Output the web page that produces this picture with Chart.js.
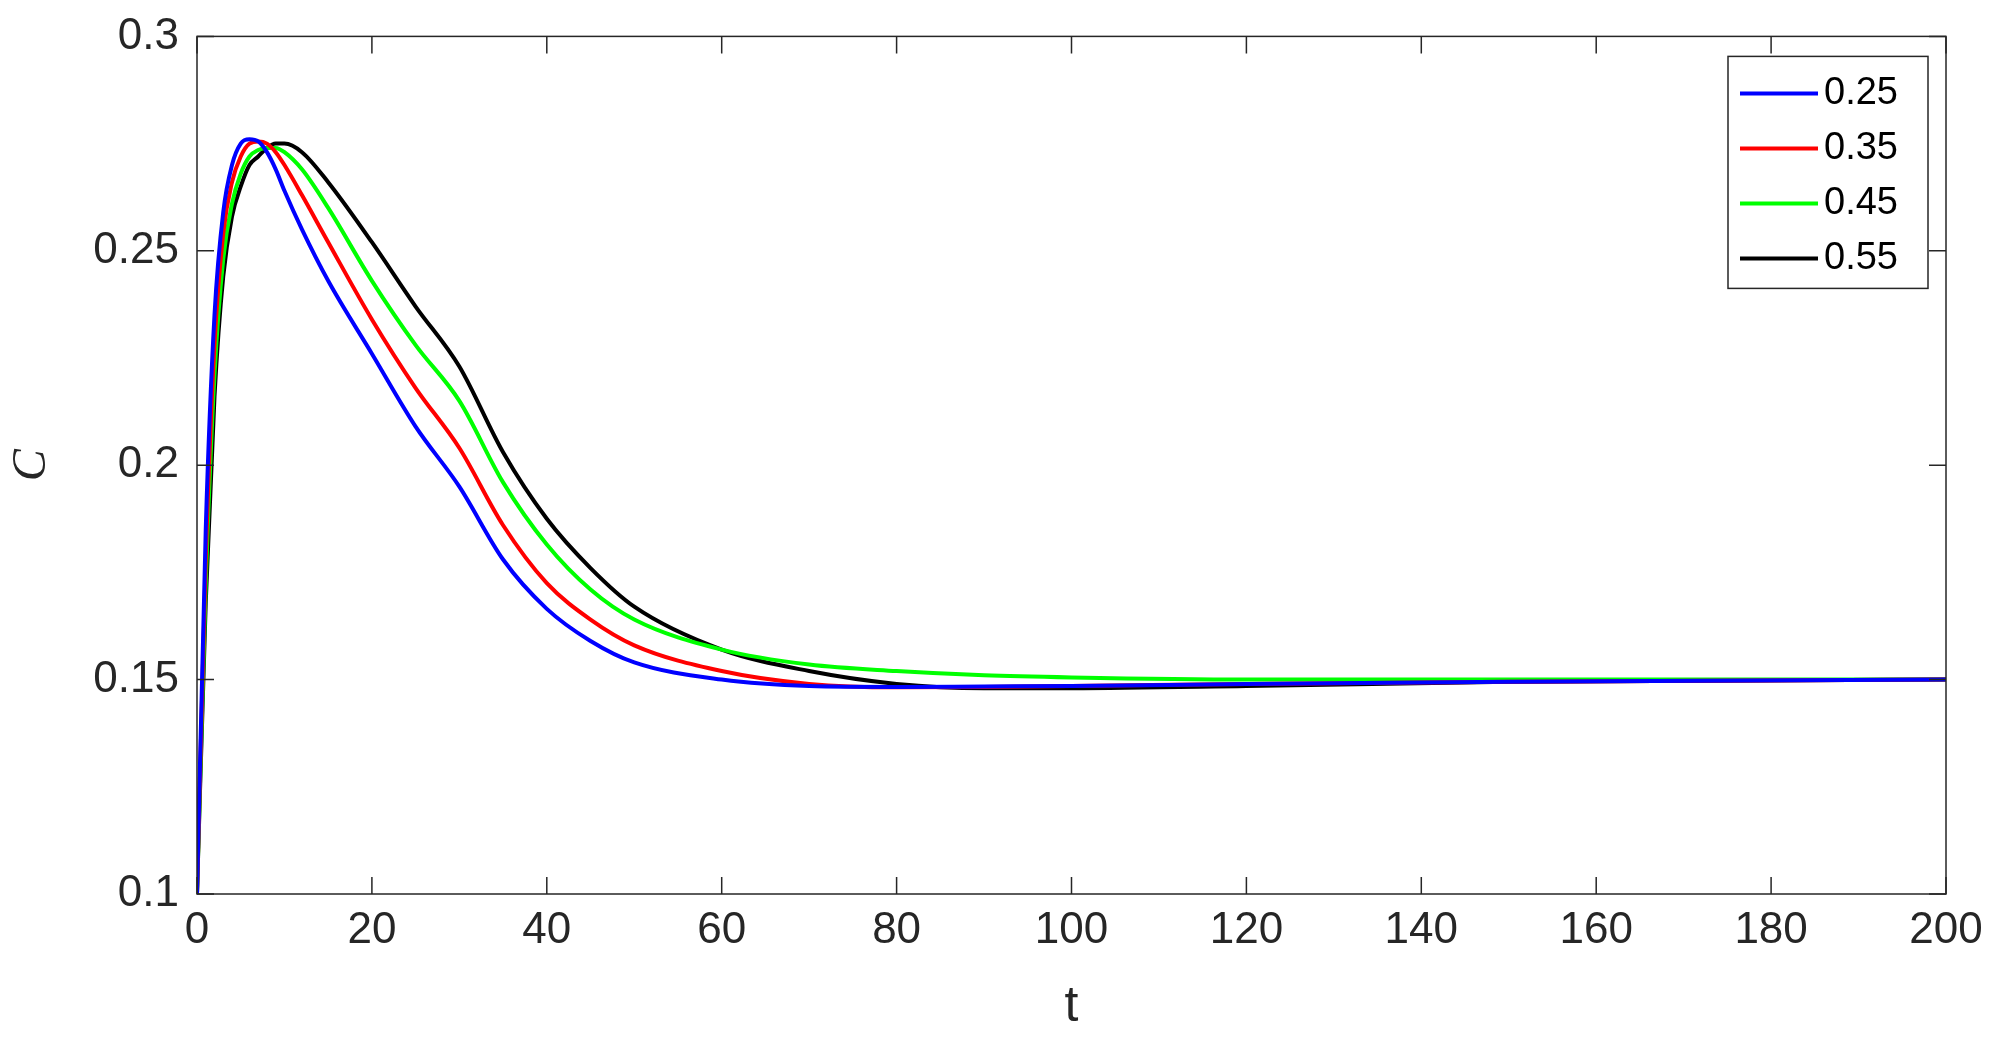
<!DOCTYPE html>
<html><head><script src="https://cdn.jsdelivr.net/npm/chart.js@4"></script>
<style>html,body{margin:0;padding:0;background:#fff}#w{width:1998px;height:1041px}</style></head>
<body><div id="w"><canvas id="c"></canvas></div>
<script>
const t = [0,1,2,3,4,5,6,7,8,9,10,12,15,20,25,30,35,40,45,50,60,70,80,90,100,120,150,200];
const s025 = [0.1,0.185,0.235,0.259,0.270,0.275,0.276,0.2755,0.273,0.269,0.264,0.255,0.243,0.226,0.209,0.195,0.178,0.1665,0.159,0.154,0.150,0.1485,0.1483,0.1484,0.1485,0.149,0.1495,0.15];
const s035 = [0.1,0.178,0.228,0.254,0.266,0.272,0.2750,0.2755,0.275,0.273,0.270,0.263,0.252,0.234,0.218,0.204,0.186,0.1725,0.164,0.158,0.152,0.149,0.1482,0.1483,0.1485,0.149,0.1495,0.15];
const s045 = [0.1,0.172,0.221,0.248,0.261,0.268,0.272,0.2735,0.274,0.274,0.273,0.269,0.260,0.243,0.228,0.215,0.196,0.1815,0.171,0.164,0.157,0.1535,0.152,0.151,0.1505,0.150,0.150,0.15];
const s055 = [0.1,0.168,0.216,0.244,0.258,0.265,0.270,0.272,0.274,0.275,0.275,0.273,0.266,0.252,0.237,0.223,0.203,0.1875,0.176,0.167,0.157,0.152,0.149,0.148,0.148,0.1485,0.1495,0.15];
const labels = ['0.25','0.35','0.45','0.55'];
const colors = ['#0000ff','#ff0000','#00ff00','#000000'];
const series = [s025,s035,s045,s055];
const xTicks = [0,20,40,60,80,100,120,140,160,180,200];
const yTicks = [0.1,0.15,0.2,0.25,0.3];

const frame = {id:'frame', afterDatasetsDraw(ch){
  const {ctx, chartArea:a, scales:{x,y}} = ch;
  ctx.save(); ctx.strokeStyle='#262626'; ctx.lineWidth=1.5;
  ctx.strokeRect(a.left,a.top,a.right-a.left,a.bottom-a.top);
  ctx.beginPath();
  xTicks.forEach(v=>{const p=x.getPixelForValue(v);ctx.moveTo(p,a.bottom);ctx.lineTo(p,a.bottom-17);ctx.moveTo(p,a.top);ctx.lineTo(p,a.top+17);});
  yTicks.forEach(v=>{const p=y.getPixelForValue(v);ctx.moveTo(a.left,p);ctx.lineTo(a.left+17,p);ctx.moveTo(a.right,p);ctx.lineTo(a.right-17,p);});
  ctx.stroke();
  const bx=a.right-218, by=a.top+20, bw=200, bh=232;
  ctx.fillStyle='#fff'; ctx.fillRect(bx,by,bw,bh); ctx.strokeRect(bx,by,bw,bh);
  ctx.font='38px "Liberation Sans", Arial'; ctx.textBaseline='middle';
  labels.forEach((l,i)=>{const yy=by+37+i*55;ctx.strokeStyle=colors[i];ctx.lineWidth=4;ctx.beginPath();ctx.moveTo(bx+12,yy);ctx.lineTo(bx+90,yy);ctx.stroke();ctx.fillStyle='#000';ctx.fillText(l,bx+96,yy);});
  ctx.restore();
}};

new Chart(document.getElementById('c'),{
  type:'line',
  data:{datasets:series.map((s,i)=>({label:labels[i],data:t.map((v,j)=>({x:v,y:s[j]})),borderColor:colors[i],borderWidth:4,pointRadius:0,cubicInterpolationMode:'monotone',fill:false}))},
  options:{responsive:true,maintainAspectRatio:false,animation:false,
    layout:{padding:{top:36,right:52,left:0,bottom:0}},
    plugins:{legend:{display:false},tooltip:{enabled:false}},
    scales:{
      x:{type:'linear',min:0,max:200,afterBuildTicks(s){s.ticks=xTicks.map(v=>({value:v}));},
        grid:{display:false},border:{display:false},
        ticks:{color:'#262626',font:{size:44,family:'"Liberation Sans", Arial'},padding:2,maxRotation:0},
        title:{display:true,text:'t',color:'#262626',font:{size:50,family:'"Liberation Sans", Arial'},padding:{top:0}},
        afterFit(s){s.height=147;}},
      y:{min:0.1,max:0.3,afterBuildTicks(s){s.ticks=yTicks.map(v=>({value:v}));},
        grid:{display:false},border:{display:false},
        ticks:{color:'#262626',font:{size:44,family:'"Liberation Sans", Arial'},padding:10,callback:v=>String(v)},
        title:{display:true,text:'C',color:'#262626',font:{size:48,family:'"Liberation Serif", serif',style:'italic'}},
        afterFit(s){s.width=197;}}
    }},
  plugins:[frame]
});
</script></body></html>
